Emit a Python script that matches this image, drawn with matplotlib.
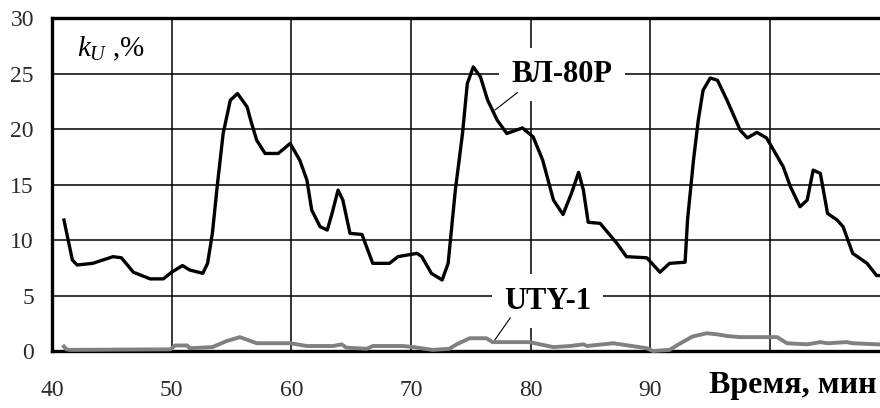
import matplotlib
matplotlib.use("Agg")
import matplotlib.pyplot as plt

# ВЛ-80Р curve, k_U in %
vl80_t = [41.0, 41.7, 42.1, 43.4, 45.1, 45.8, 46.8, 48.2, 49.3, 50.0,
          50.9, 51.5, 52.6, 53.0, 53.4, 53.8, 54.3, 54.9, 55.5, 56.3,
          56.6, 57.1, 57.8, 58.9, 59.9, 60.7, 61.3, 61.7, 62.4, 63.0,
          63.4, 63.9, 64.3, 64.9, 65.9, 66.8, 68.2, 68.9, 70.5, 70.9,
          71.7, 72.6, 73.1, 73.7, 74.3, 74.7, 75.2, 75.8, 76.4, 77.2,
          78.0, 79.3, 80.2, 81.0, 81.9, 82.7, 83.4, 84.0, 84.4, 84.8,
          85.8, 87.2, 88.0, 89.7, 90.8, 91.6, 92.9, 93.1, 93.6, 94.0,
          94.4, 95.0, 95.6, 96.4, 97.5, 98.1, 98.9, 99.7, 101.1, 101.7,
          102.5, 103.1, 103.6, 104.2, 104.8, 105.6, 106.1, 106.9, 108.1, 108.9,
          109.5]
vl80_k = [11.8, 8.2, 7.75, 7.9, 8.5, 8.4, 7.1, 6.5, 6.5, 7.1,
          7.7, 7.3, 7.0, 7.9, 10.6, 14.8, 19.6, 22.6, 23.2, 22.0,
          20.8, 19.0, 17.8, 17.8, 18.7, 17.2, 15.4, 12.7, 11.2, 10.9,
          12.4, 14.5, 13.6, 10.6, 10.5, 7.9, 7.9, 8.5, 8.8, 8.5,
          7.0, 6.4, 7.9, 14.5, 19.6, 24.1, 25.6, 24.7, 22.6, 20.8,
          19.6, 20.1, 19.3, 17.2, 13.6, 12.3, 14.2, 16.1, 14.5, 11.6,
          11.5, 9.7, 8.5, 8.4, 7.1, 7.9, 8.0, 11.8, 17.2, 20.8,
          23.5, 24.6, 24.4, 22.6, 19.9, 19.2, 19.7, 19.2, 16.6, 14.8,
          13.0, 13.6, 16.3, 16.0, 12.4, 11.8, 11.2, 8.8, 7.9, 6.8,
          6.8]

# UTY-1 curve
uty_t = [41.0, 41.2, 41.5, 49.9, 50.3, 51.3, 51.5, 53.4, 54.6, 55.7,
         57.1, 59.9, 61.3, 63.5, 64.2, 64.6, 66.3, 66.8, 69.3, 70.2,
         71.8, 73.2, 73.8, 74.9, 76.3, 76.8, 79.9, 81.9, 83.3, 84.4,
         84.7, 86.9, 87.5, 89.7, 90.2, 91.6, 92.2, 93.5, 94.7, 95.6,
         96.4, 97.5, 100.6, 101.4, 103.1, 104.2, 104.8, 106.4, 106.9, 108.9,
         109.5]
uty_k = [0.4, 0.15, 0.1, 0.15, 0.5, 0.5, 0.25, 0.35, 0.9, 1.25,
         0.7, 0.7, 0.45, 0.45, 0.6, 0.3, 0.2, 0.45, 0.45, 0.35,
         0.1, 0.2, 0.6, 1.15, 1.15, 0.8, 0.8, 0.35, 0.45, 0.6,
         0.45, 0.7, 0.6, 0.25, 0.0, 0.1, 0.5, 1.3, 1.6, 1.5,
         1.35, 1.25, 1.25, 0.7, 0.6, 0.8, 0.7, 0.8, 0.7, 0.6,
         0.6]

x_ticks = [40, 50, 60, 70, 80, 90, 100, 110]
x_labels = ['40', '50', '60', '70', '80', '90', '', '']
y_ticks = [0, 5, 10, 15, 20, 25, 30]

plt.rcParams['font.family'] = ['Liberation Serif', 'DejaVu Serif']
plt.rcParams['mathtext.fontset'] = 'custom'
plt.rcParams['mathtext.rm'] = 'Liberation Serif'
plt.rcParams['mathtext.it'] = 'Liberation Serif:italic'

fig = plt.figure(figsize=(8.8, 4.08), dpi=100)
# axes runs past the right edge of the figure, like the original
ax = fig.add_axes([0.0591, 0.1397, 0.952, 0.816])

ax.plot(vl80_t, vl80_k, color='black', lw=2.4, zorder=3, clip_on=False)
ax.plot(uty_t, uty_k, color='#808080', lw=2.8, zorder=3, clip_on=False)

ax.set_xlim(40, 110)
ax.set_ylim(0, 30)
ax.set_xticks(x_ticks)
ax.set_xticklabels(x_labels)
ax.set_yticks(y_ticks)
ax.tick_params(length=0, labelsize=17, colors='#2a2a2a')
ax.tick_params(axis='x', pad=21)
ax.tick_params(axis='y', pad=13)

ax.grid(True, color='black', lw=1.1)
ax.set_axisbelow(True)
for s in ['top', 'left', 'bottom']:
    ax.spines[s].set_linewidth(2.4)
ax.spines['right'].set_visible(False)

ax.text(42.1, 27.2, r'$k_U$ ,%', fontsize=21, va='center', ha='left')

box = dict(boxstyle='square,pad=0.4', facecolor='white', edgecolor='none')
ax.text(82.6, 24.9, 'ВЛ-80Р', fontsize=22, fontweight='bold',
        ha='center', va='center', bbox=box, zorder=4)
ax.text(81.4, 4.5, 'UTY-1', fontsize=22, fontweight='bold',
        ha='center', va='center', bbox=box, zorder=4)

# leader lines from labels to curves
ax.annotate('', xy=(77.0, 21.7), xytext=(78.9, 23.3), zorder=5,
            arrowprops=dict(arrowstyle='-', color='black', lw=0.8,
                            shrinkA=0, shrinkB=0))
ax.annotate('', xy=(77.0, 1.0), xytext=(78.3, 3.0), zorder=5,
            arrowprops=dict(arrowstyle='-', color='black', lw=0.8,
                            shrinkA=0, shrinkB=0))

fig.text(0.996, 0.055, 'Время, мин', fontsize=23, fontweight='bold',
         ha='right', va='center')

fig.savefig('out.png', dpi=100)
